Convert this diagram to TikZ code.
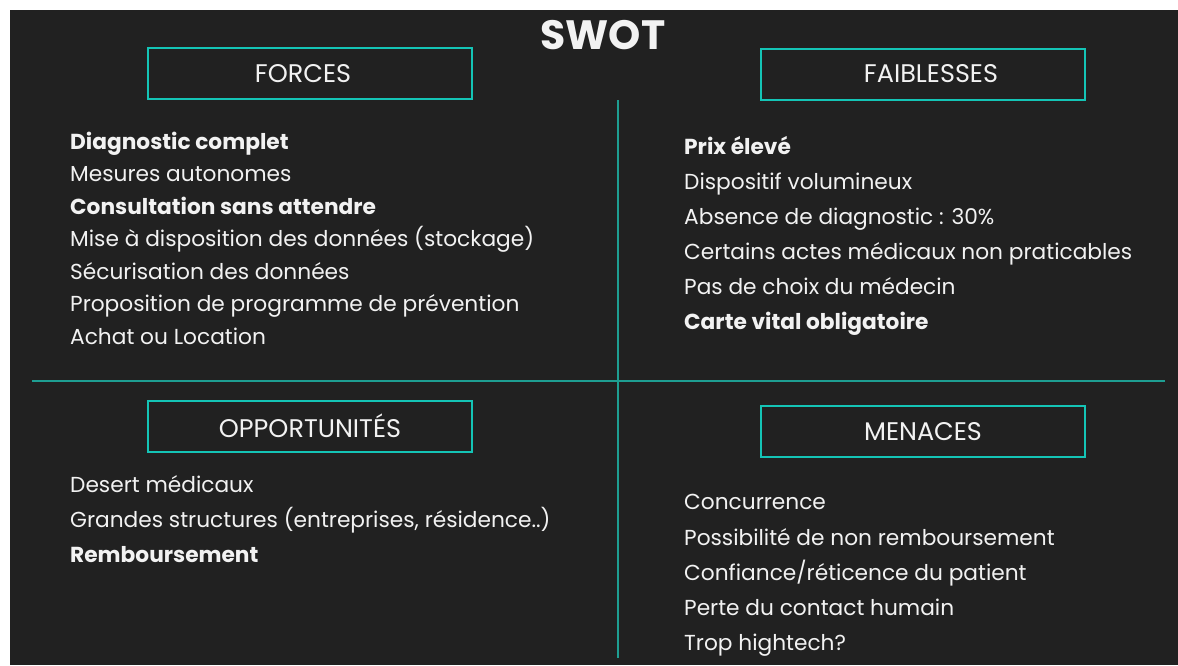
\documentclass[tikz,border=0pt]{standalone}
\usepackage{fontspec}
\setmainfont{Poppins}
\definecolor{bg}{HTML}{212121}
\definecolor{teal}{HTML}{14C4B6}
\definecolor{grid}{HTML}{1E9E92}
\definecolor{txt}{HTML}{F2F2F2}
\begin{document}
\begin{tikzpicture}[x=1pt,y=-1pt,
  hbox/.style={draw=teal,line width=2pt,minimum width=324pt,minimum height=51pt,inner sep=0pt,text=txt,font=\fontsize{25.5}{30}\selectfont},
  item/.style={anchor=base west,inner sep=0pt,text=txt,font=\fontsize{21.7}{25}\selectfont},
  itemb/.style={item,font=\fontsize{21.7}{25}\selectfont\bfseries},
  gridline/.style={draw=grid,line width=1.6pt}]
\useasboundingbox (0,0) rectangle (1178,665);
\fill[bg] (10,10) rectangle (1178,665);
\node[text=txt,font=\fontsize{41}{45}\selectfont\bfseries,inner sep=0pt] (title) at (603,35) {SWOT};
\coordinate (vt) at (618,100);
\coordinate (vb) at (618,658);
\coordinate (hl) at (32,381);
\coordinate (hr) at (1165,381);
\draw[gridline] (vt) -- (vb);
\draw[gridline] (hl) -- (hr);
\node[hbox] (forces) at (310,73.5) {\hspace*{-14pt}FORCES};
\node[hbox] (faib) at (923,74) {\hspace*{16pt}FAIBLESSES};
\node[hbox] (opp) at (310,426) {OPPORTUNITÉS};
\node[hbox] (men) at (923,431.5) {MENACES};
% Forces
\node[itemb] (f1) at (70,149) {Diagnostic complet};
\node[item] (f2) at (70,181.5) {Mesures autonomes};
\node[itemb] (f3) at (70,214) {Consultation sans attendre};
\node[item] (f4) at (70,246.5) {Mise à disposition des données (stockage)};
\node[item] (f5) at (70,279) {Sécurisation des données};
\node[item] (f6) at (70,311.5) {Proposition de programme de prévention};
\node[item] (f7) at (70,344) {Achat ou Location};
% Faiblesses
\node[itemb] (w1) at (684,154) {Prix élevé};
\node[item] (w2) at (684,189) {Dispositif volumineux};
\node[item] (w3) at (684,224) {Absence de diagnostic : 30\%};
\node[item] (w4) at (684,259) {Certains actes médicaux non praticables};
\node[item] (w5) at (684,294) {Pas de choix du médecin};
\node[itemb] (w6) at (684,329) {Carte vital obligatoire};
% Opportunites
\node[item] (o1) at (70,492) {Desert médicaux};
\node[item] (o2) at (70,527) {Grandes structures (entreprises, résidence..)};
\node[itemb] (o3) at (70,562) {Remboursement};
% Menaces
\node[item] (m1) at (684,509) {Concurrence};
\node[item] (m2) at (684,545) {Possibilité de non remboursement};
\node[item] (m3) at (684,580) {Confiance/réticence du patient};
\node[item] (m4) at (684,615) {Perte du contact humain};
\node[item] (m5) at (684,650) {Trop hightech?};
\end{tikzpicture}
\end{document}
